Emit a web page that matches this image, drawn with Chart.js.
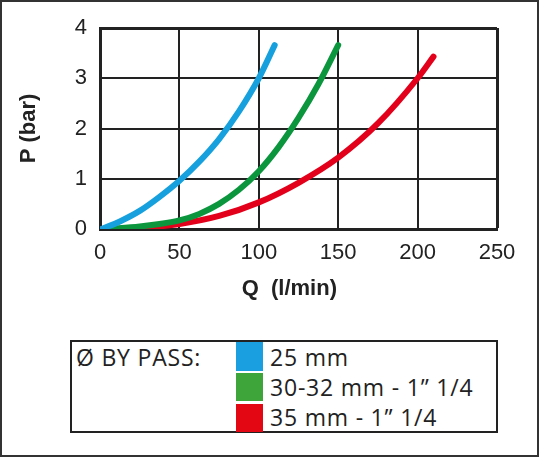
<!DOCTYPE html>
<html>
<head>
<meta charset="utf-8">
<script src="https://cdn.jsdelivr.net/npm/chart.js@4"></script>
<style>
  body { margin: 0; background: #fff; }
  #page { position: relative; width: 540px; height: 458px; overflow: hidden; }
  #frame { position: absolute; left: 0; top: 0; width: 539px; height: 457px; box-sizing: border-box; border: 2px solid #333; }
  #chart { position: absolute; left: 0; top: 0; }
  #legendBox { position: absolute; left: 70px; top: 340px; width: 428px; height: 93px; box-sizing: border-box; border: 2px solid #222; }
  .lg { position: absolute; font-family: "Open Sans", sans-serif; font-size: 23px; letter-spacing: 0.8px; line-height: 30px; color: #222; white-space: nowrap; }
  .sw { position: absolute; left: 236px; width: 27px; }
</style>
</head>
<body>
<div id="page">
  <div id="frame"></div>
  <canvas id="chart" width="540" height="330"></canvas>
  <div id="legendBox"></div>
  <div id="legendItems"></div>
</div>
<script>
// readings from the reference, Q in l/min, P in bar
const blueQ = [1, 12.5, 25, 37.5, 50, 62.5, 75, 87.5, 100, 110];
const blueP = [0, 0.15, 0.36, 0.64, 0.96, 1.34, 1.79, 2.34, 3.0, 3.66];
const greenQ = [5, 25, 37.5, 50, 62.5, 75, 87.5, 100, 112.5, 125, 137.5, 150];
const greenP = [0, 0.05, 0.1, 0.17, 0.3, 0.5, 0.78, 1.15, 1.63, 2.21, 2.88, 3.66];
const redQ = [0, 25, 50, 75, 100, 125, 150, 175, 200, 210];
const redP = [0, 0.02, 0.1, 0.26, 0.53, 0.92, 1.42, 2.1, 3.0, 3.43];

const legendTitle = "Ø BY PASS:";
const legendLabels = ["25 mm", "30-32 mm - 1” 1/4", "35 mm - 1” 1/4"];
const legendColors = ["#1aa0e1", "#3da53a", "#e30613"];
const lineColors = ["#16a0dd", "#0b963e", "#e3001b"];

const xTitle = "Q  (l/min)";
const yTitle = "P (bar)";

function toPoints(qs, ps) {
  return qs.map((q, i) => ({ x: q, y: ps[i] }));
}

// legend (html box)
let items = document.getElementById("legendItems");
let t = document.createElement("div");
t.className = "lg";
t.style.left = "76px";
t.style.top = "342px";
t.textContent = legendTitle;
items.appendChild(t);
let swTops = [342, 373, 404];
let swHeights = [29, 28, 28];
legendLabels.forEach((lab, i) => {
  let sw = document.createElement("div");
  sw.className = "sw";
  sw.style.top = swTops[i] + "px";
  sw.style.height = swHeights[i] + "px";
  sw.style.background = legendColors[i];
  items.appendChild(sw);
  let d = document.createElement("div");
  d.className = "lg";
  d.style.left = "270px";
  d.style.top = (342 + i * 30) + "px";
  d.textContent = lab;
  items.appendChild(d);
});

let series = [toPoints(blueQ, blueP), toPoints(greenQ, greenP), toPoints(redQ, redP)];

let chartData = {
  datasets: series.map((pts, i) => ({
    label: legendLabels[i],
    data: pts,
    showLine: true,
    borderColor: lineColors[i],
    backgroundColor: lineColors[i],
    borderWidth: 6,
    borderCapStyle: "round",
    pointRadius: 0,
    cubicInterpolationMode: "monotone",
  })),
};

let tickFont = { family: "'Liberation Sans', Arial, sans-serif", size: 22 };
let titleFont = { family: "'Liberation Sans', Arial, sans-serif", size: 22, weight: "bold" };

let options = {
  responsive: false,
  animation: false,
  devicePixelRatio: 1,
  layout: { padding: { top: 28, right: 43, left: 0, bottom: 0 } },
  plugins: { legend: { display: false }, tooltip: { enabled: false } },
  scales: {
    x: {
      type: "linear",
      min: 0,
      max: 250,
      afterFit: (scale) => { scale.height = 101; },
      ticks: { stepSize: 50, color: "#222", font: tickFont, padding: 11, maxRotation: 0, autoSkip: false },
      grid: { color: "#222", lineWidth: (c) => (c.tick && c.tick.value === 250 ? 3 : 2), drawTicks: false },
      border: { color: "#222", width: 3 },
      title: { display: true, text: xTitle + "   ", color: "#222", font: titleFont, padding: { bottom: 28 } },
    },
    y: {
      type: "linear",
      min: 0,
      max: 4,
      afterFit: (scale) => { scale.width = 100; },
      ticks: { stepSize: 1, color: "#222", font: tickFont, padding: 13 },
      grid: { color: "#222", lineWidth: (c) => (c.tick && c.tick.value === 4 ? 3 : 2), drawTicks: false },
      border: { color: "#222", width: 3 },
      title: { display: true, text: yTitle, color: "#222", font: titleFont, padding: { top: 16 } },
    },
  },
};

var ctx = document.getElementById("chart").getContext("2d");
var myChart = new Chart(ctx, {
  type: "scatter",
  data: chartData,
  options: options,
});
</script>
</body>
</html>
